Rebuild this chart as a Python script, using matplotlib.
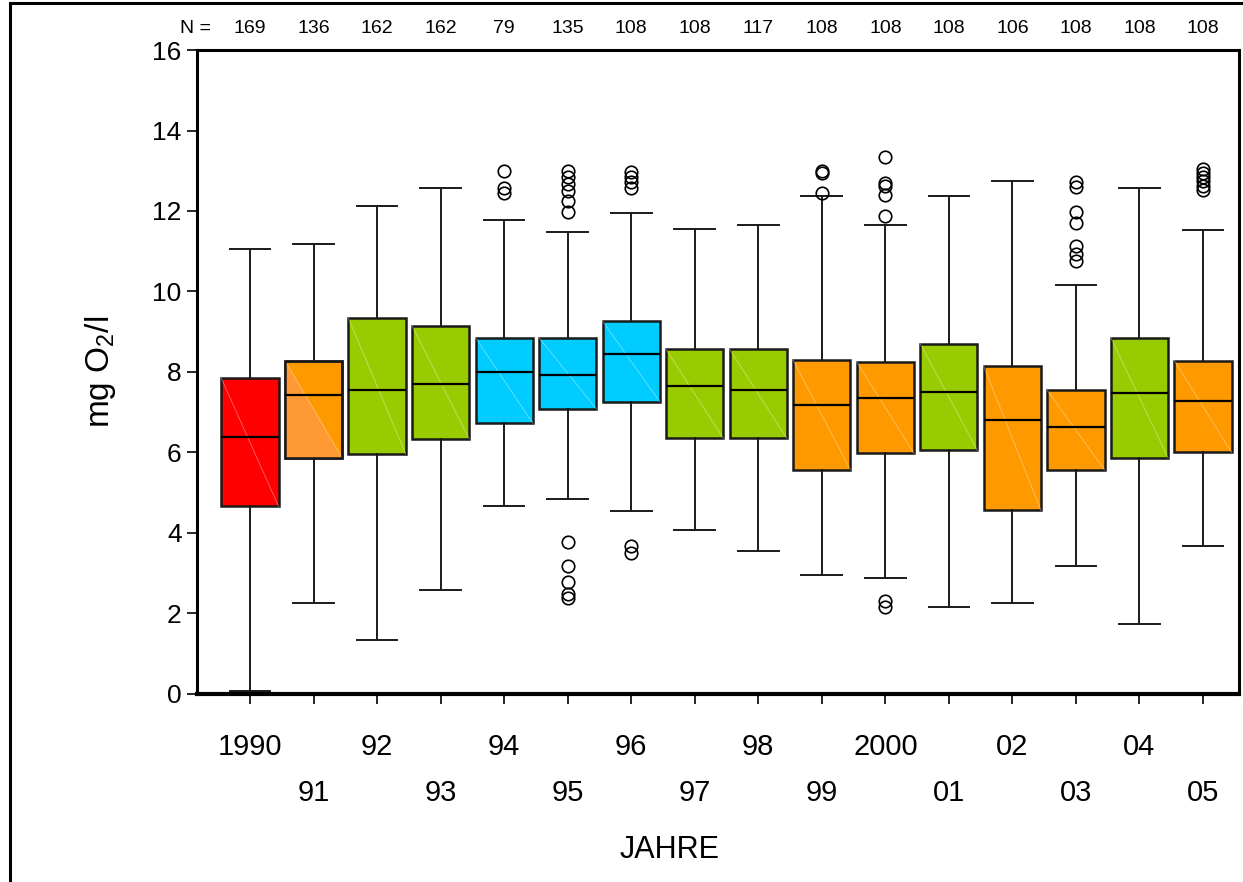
import numpy as np
import matplotlib
matplotlib.use('Agg')
import matplotlib.pyplot as plt
import matplotlib.transforms as mtransforms
from matplotlib.lines import Line2D
from matplotlib.patches import Polygon, Rectangle

plt.rcParams['font.family'] = ['Liberation Sans', 'DejaVu Sans']
plt.rcParams['mathtext.default'] = 'regular'

years = ['1990', '91', '92', '93', '94', '95', '96', '97',
         '98', '99', '2000', '01', '02', '03', '04', '05']
n_values = [169, 136, 162, 162, 79, 135, 108, 108, 117, 108, 108, 108, 106, 108, 108, 108]

whis_lo = [0.08, 2.27, 1.34, 2.59, 4.66, 4.85, 4.55, 4.07, 3.55, 2.95, 2.88, 2.16, 2.27, 3.17, 1.75, 3.68]
q1 = [4.66, 5.87, 5.97, 6.34, 6.73, 7.09, 7.26, 6.35, 6.35, 5.57, 5.98, 6.05, 4.56, 5.57, 5.87, 6.0]
median = [6.39, 7.43, 7.55, 7.70, 7.99, 7.92, 8.44, 7.64, 7.55, 7.17, 7.35, 7.50, 6.80, 6.64, 7.48, 7.28]
q3 = [7.84, 8.28, 9.33, 9.15, 8.85, 8.85, 9.26, 8.56, 8.56, 8.29, 8.25, 8.70, 8.14, 7.54, 8.85, 8.28]
whis_hi = [11.05, 11.17, 12.13, 12.56, 11.77, 11.47, 11.96, 11.55, 11.66, 12.37, 11.66, 12.37, 12.74, 10.17, 12.56, 11.53]

outliers = [
    [], [], [], [],
    [13.0, 12.58, 12.45],
    [13.0, 12.85, 12.67, 12.5, 12.25, 11.97, 3.78, 3.18, 2.78, 2.48, 2.38],
    [12.98, 12.85, 12.71, 12.57, 3.68, 3.5],
    [], [],
    [13.0, 12.95, 12.45],
    [13.35, 12.7, 12.62, 12.4, 11.88, 2.3, 2.17],
    [], [],
    [12.72, 12.6, 11.98, 11.69, 11.13, 10.93, 10.76],
    [],
    [13.05, 12.95, 12.85, 12.75, 12.63, 12.52],
]

RED, ORANGE, GREEN, CYAN = '#ff0000', '#ff9900', '#99cc00', '#00ccff'
box_colors = [RED, ORANGE, GREEN, GREEN, CYAN, CYAN, CYAN, GREEN,
              GREEN, ORANGE, ORANGE, GREEN, ORANGE, ORANGE, GREEN, ORANGE]


def main():
    fig = plt.figure(figsize=(12.43, 8.82), dpi=100)
    ax = fig.add_axes([0.1585, 0.2132, 0.8383, 0.7301])

    pos = np.arange(len(years))
    width = 0.9
    stats = []
    for i in range(len(years)):
        stats.append(dict(med=median[i], q1=q1[i], q3=q3[i], whislo=whis_lo[i],
                          whishi=whis_hi[i], fliers=outliers[i], label=years[i]))

    bp = ax.bxp(stats, positions=pos, widths=width, capwidths=0.64, patch_artist=True,
                boxprops=dict(edgecolor='#1a1a1a', linewidth=1.8),
                medianprops=dict(color='black', linewidth=1.6, zorder=2.5),
                whiskerprops=dict(color='#1a1a1a', linewidth=1.4),
                capprops=dict(color='#1a1a1a', linewidth=1.4),
                flierprops=dict(marker='o', markersize=9, markerfacecolor='none',
                                markeredgecolor='black', markeredgewidth=1.2))
    for patch, c in zip(bp['boxes'], box_colors):
        patch.set_facecolor(c)

    # faint diagonal across each box, lighter lower half on 1991
    for i in range(len(years)):
        x0, x1 = pos[i] - width / 2, pos[i] + width / 2
        if i == 1:
            ax.add_patch(Polygon([[x0, q3[i]], [x1, q1[i]], [x0, q1[i]]], closed=True,
                                 facecolor='#ff9933', edgecolor='none', zorder=2.1))
            ax.add_patch(Rectangle((x0, q1[i]), width, q3[i] - q1[i], fill=False,
                                   edgecolor='#1a1a1a', linewidth=1.8, zorder=2.3))
        ax.plot([x0, x1], [q3[i], q1[i]], color='white', alpha=0.35, lw=0.7, zorder=2.2)

    ax.set_xlim(-0.834, 15.567)
    ax.set_ylim(0, 16)
    ax.set_yticks(np.arange(0, 17, 2))
    ax.tick_params(axis='y', direction='out', length=7, width=1.2, labelsize=19, pad=4)

    ax.set_xticks(pos[::2], years[::2])
    ax.set_xticks(pos[1::2], years[1::2], minor=True)
    ax.tick_params(axis='x', which='major', direction='out', length=7, width=1.2,
                   labelsize=21, pad=21)
    ax.tick_params(axis='x', which='minor', direction='out', length=7, width=1.2,
                   labelsize=21, pad=54)

    for side in ['left', 'top', 'right']:
        ax.spines[side].set_linewidth(2.2)
    ax.spines['bottom'].set_linewidth(3)

    # sample counts above the plot
    trans = mtransforms.blended_transform_factory(ax.transData, fig.transFigure)
    ax.text(-0.85, 0.968, 'N =', transform=trans, ha='center', va='center', fontsize=14)
    for x, n in zip(pos, n_values):
        ax.text(x, 0.968, str(n), transform=trans, ha='center', va='center', fontsize=14)

    fig.text(100 / 1243, 1 - 372 / 882, 'mg O$_2$/l', rotation=90,
             ha='center', va='center', fontsize=24)
    fig.text(670 / 1243, 1 - 850 / 882, 'JAHRE', ha='center', va='center', fontsize=22)

    # outer frame
    fig.add_artist(Line2D([0.008, 0.008], [0, 0.9966], color='black', lw=2.2,
                          transform=fig.transFigure))
    fig.add_artist(Line2D([0.008, 1], [0.9966, 0.9966], color='black', lw=2.2,
                          transform=fig.transFigure))

    plt.savefig('out.png', dpi=100)


if __name__ == '__main__':
    main()
